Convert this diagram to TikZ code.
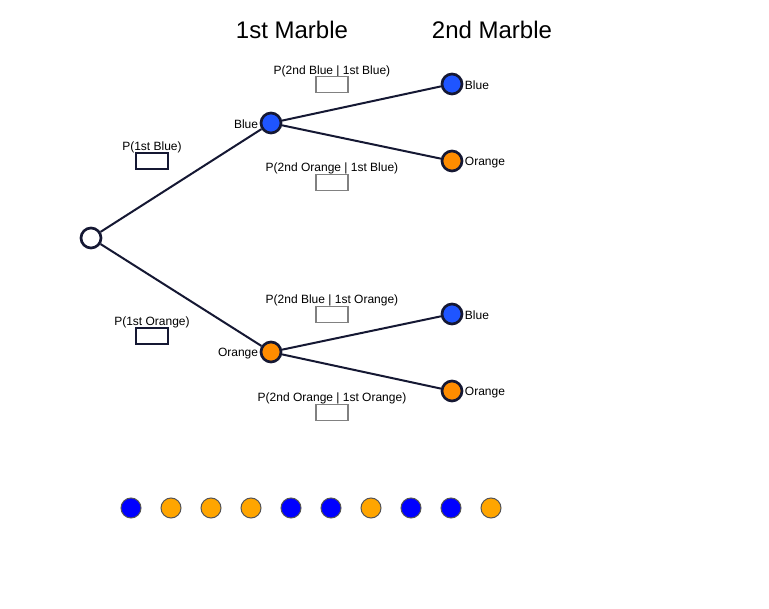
\documentclass[tikz,border=0pt]{standalone}
\usepackage{fontspec}
\setmainfont{Liberation Sans}
\begin{document}
\begin{tikzpicture}[x=0.75pt,y=-0.75pt,
  edge/.style={draw=navy,line width=1.5pt},
  tnode/.style={circle,draw=navy,line width=2pt,minimum size=15pt,inner sep=0pt},
  marble/.style={circle,draw=marbleline,line width=0.75pt,minimum size=15pt,inner sep=0pt},
  lbl/.style={font=\fontsize{9pt}{10.5pt}\selectfont,text=black,inner sep=1pt},
  pbox/.style={draw=gray!90,line width=1pt,minimum width=24pt,minimum height=12pt,inner sep=0pt},
  pboxd/.style={draw=navy,line width=0.8pt,minimum width=24pt,minimum height=12pt,inner sep=0pt},
  title/.style={font=\fontsize{18pt}{21pt}\selectfont}]
\definecolor{navy}{HTML}{151833}
\definecolor{tblue}{HTML}{1F55FF}
\definecolor{torange}{HTML}{FF8C00}
\definecolor{mblue}{HTML}{0000FF}
\definecolor{morange}{HTML}{FFA500}
\definecolor{marbleline}{HTML}{555555}
\colorlet{gray}{black!55}
\useasboundingbox (0,0) rectangle (769,609);
\fill[white] (0,0) rectangle (769,609);
% titles
\node[title] (t1) at (292,30) {1st Marble};
\node[title] (t2) at (492,30) {2nd Marble};
% tree nodes
\node[tnode,fill=white] (root) at (91,238) {};
\node[tnode,fill=tblue] (b1) at (271,123) {};
\node[tnode,fill=torange] (o1) at (271,352) {};
\node[tnode,fill=tblue] (bb) at (452,84) {};
\node[tnode,fill=torange] (bo) at (452,161) {};
\node[tnode,fill=tblue] (ob) at (452,314) {};
\node[tnode,fill=torange] (oo) at (452,391) {};
% edges
\draw[edge] (root) -- (b1);
\draw[edge] (root) -- (o1);
\draw[edge] (b1) -- (bb);
\draw[edge] (b1) -- (bo);
\draw[edge] (o1) -- (ob);
\draw[edge] (o1) -- (oo);
% node labels
\node[lbl,anchor=east,yshift=-1pt] (lb1) at (b1.west) {Blue};
\node[lbl,anchor=east,yshift=-1pt] (lo1) at (o1.west) {Orange};
\node[lbl,anchor=west,yshift=-1pt] (lbb) at (bb.east) {Blue};
\node[lbl,anchor=west,yshift=-1pt] (lbo) at (bo.east) {Orange};
\node[lbl,anchor=west,yshift=-1pt] (lob) at (ob.east) {Blue};
\node[lbl,anchor=west,yshift=-1pt] (loo) at (oo.east) {Orange};
% probability labels and boxes
\node[lbl] (p1) at (152,147.5) {P(1st Blue)};
\node[pboxd] (bx1) at (152,161) {};
\node[lbl] (p2) at (152,322.5) {P(1st Orange)};
\node[pboxd] (bx2) at (152,336) {};
\node[lbl] (p3) at (332,71.5) {P(2nd Blue | 1st Blue)};
\node[pbox] (bx3) at (332,84.5) {};
\node[lbl] (p4) at (332,168.5) {P(2nd Orange | 1st Blue)};
\node[pbox] (bx4) at (332,182.5) {};
\node[lbl] (p5) at (332,300.5) {P(2nd Blue | 1st Orange)};
\node[pbox] (bx5) at (332,314.5) {};
\node[lbl] (p6) at (332,398.5) {P(2nd Orange | 1st Orange)};
\node[pbox] (bx6) at (332,412.5) {};
% marbles
\node[marble,fill=mblue] (m1) at (131,508) {};
\node[marble,fill=morange] (m2) at (171,508) {};
\node[marble,fill=morange] (m3) at (211,508) {};
\node[marble,fill=morange] (m4) at (251,508) {};
\node[marble,fill=mblue] (m5) at (291,508) {};
\node[marble,fill=mblue] (m6) at (331,508) {};
\node[marble,fill=morange] (m7) at (371,508) {};
\node[marble,fill=mblue] (m8) at (411,508) {};
\node[marble,fill=mblue] (m9) at (451,508) {};
\node[marble,fill=morange] (m10) at (491,508) {};
\end{tikzpicture}
\end{document}
